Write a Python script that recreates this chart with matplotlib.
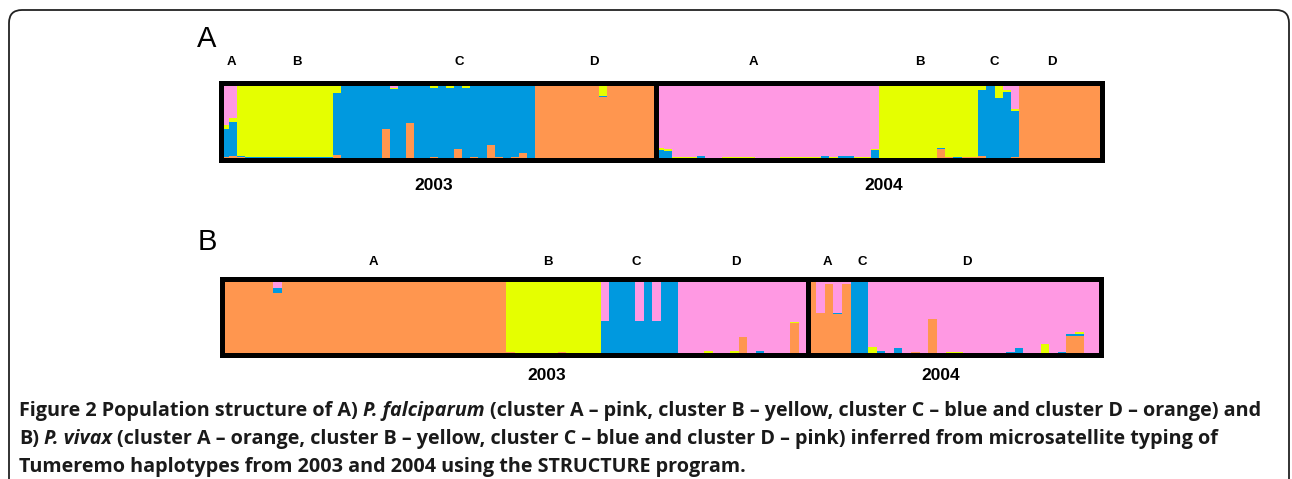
import numpy as np
import matplotlib.pyplot as plt
from matplotlib.patches import FancyBboxPatch

# cluster colours, column order of every row: pink, yellow, blue, orange
colors = ['#FF99E3', '#E5FF00', '#0099DF', '#FF964F']
stack_order = [3, 2, 1, 0]  # drawn from the bottom: orange, blue, yellow, pink

# Panel A, P. falciparum, 2003
falc_2003 = [
    (0.55, 0.06, 0.36, 0.03), (0.46, 0.05, 0.45, 0.04),
    (0.01, 0.94, 0.02, 0.03), (0.01, 0.96, 0.02, 0.01), (0.01, 0.96, 0.02, 0.01),
    (0.01, 0.96, 0.02, 0.01), (0.01, 0.96, 0.02, 0.01), (0.01, 0.96, 0.02, 0.01),
    (0.01, 0.96, 0.02, 0.01), (0.01, 0.96, 0.02, 0.01), (0.01, 0.96, 0.02, 0.01),
    (0.01, 0.96, 0.02, 0.01), (0.01, 0.96, 0.02, 0.01), (0.01, 0.96, 0.02, 0.01),
    (0.00, 0.14, 0.80, 0.06), (0.00, 0.01, 0.97, 0.02), (0.00, 0.01, 0.97, 0.02),
    (0.00, 0.01, 0.97, 0.02), (0.00, 0.01, 0.97, 0.02), (0.01, 0.01, 0.97, 0.01),
    (0.00, 0.01, 0.60, 0.39), (0.07, 0.02, 0.90, 0.01), (0.00, 0.00, 0.99, 0.01),
    (0.00, 0.01, 0.51, 0.48), (0.01, 0.01, 0.97, 0.01), (0.01, 0.01, 0.97, 0.01),
    (0.05, 0.02, 0.90, 0.03), (0.00, 0.01, 0.98, 0.01), (0.05, 0.02, 0.92, 0.01),
    (0.00, 0.01, 0.86, 0.13), (0.04, 0.03, 0.92, 0.01), (0.00, 0.00, 0.97, 0.03),
    (0.02, 0.01, 0.96, 0.01), (0.00, 0.00, 0.81, 0.19), (0.00, 0.01, 0.96, 0.03),
    (0.02, 0.01, 0.96, 0.01), (0.01, 0.00, 0.96, 0.03), (0.01, 0.04, 0.87, 0.08),
    (0.00, 0.00, 0.99, 0.01),
    (0.00, 0.01, 0.00, 0.99), (0.00, 0.01, 0.00, 0.99), (0.00, 0.01, 0.00, 0.99),
    (0.00, 0.01, 0.00, 0.99), (0.00, 0.01, 0.00, 0.99), (0.00, 0.01, 0.00, 0.99),
    (0.00, 0.01, 0.00, 0.99), (0.00, 0.01, 0.00, 0.99), (0.00, 0.17, 0.02, 0.81),
    (0.00, 0.01, 0.00, 0.99), (0.00, 0.01, 0.00, 0.99), (0.00, 0.01, 0.00, 0.99),
    (0.00, 0.01, 0.00, 0.99), (0.00, 0.01, 0.00, 0.99), (0.00, 0.01, 0.00, 0.99),
]

# Panel A, P. falciparum, 2004
falc_2004 = [
    (0.85, 0.03, 0.12, 0.00), (0.86, 0.03, 0.11, 0.00), (0.97, 0.03, 0.00, 0.00),
    (0.97, 0.03, 0.00, 0.00), (0.97, 0.03, 0.00, 0.00), (0.95, 0.01, 0.04, 0.00),
    (0.99, 0.00, 0.00, 0.01), (0.99, 0.00, 0.00, 0.01), (0.97, 0.03, 0.00, 0.00),
    (0.97, 0.03, 0.00, 0.00), (0.97, 0.03, 0.00, 0.00), (0.97, 0.03, 0.00, 0.00),
    (0.99, 0.00, 0.00, 0.01), (0.99, 0.00, 0.00, 0.01), (0.99, 0.00, 0.00, 0.01),
    (0.97, 0.03, 0.00, 0.00), (0.97, 0.03, 0.00, 0.00), (0.97, 0.03, 0.00, 0.00),
    (0.97, 0.03, 0.00, 0.00), (0.97, 0.03, 0.00, 0.00), (0.96, 0.00, 0.04, 0.00),
    (0.97, 0.03, 0.00, 0.00), (0.96, 0.00, 0.04, 0.00), (0.96, 0.00, 0.04, 0.00),
    (0.97, 0.03, 0.00, 0.00), (0.97, 0.03, 0.00, 0.00), (0.87, 0.01, 0.12, 0.00),
    (0.01, 0.97, 0.02, 0.00), (0.01, 0.97, 0.02, 0.00), (0.01, 0.97, 0.02, 0.00),
    (0.01, 0.97, 0.02, 0.00), (0.01, 0.97, 0.02, 0.00), (0.01, 0.97, 0.02, 0.00),
    (0.01, 0.97, 0.02, 0.00), (0.00, 0.85, 0.02, 0.13), (0.02, 0.95, 0.00, 0.03),
    (0.02, 0.95, 0.03, 0.00), (0.01, 0.96, 0.00, 0.03), (0.01, 0.96, 0.00, 0.03),
    (0.00, 0.10, 0.86, 0.04), (0.00, 0.02, 0.97, 0.01), (0.00, 0.20, 0.79, 0.01),
    (0.10, 0.02, 0.88, 0.00), (0.35, 0.02, 0.60, 0.03),
    (0.00, 0.01, 0.00, 0.99), (0.00, 0.01, 0.00, 0.99), (0.00, 0.01, 0.00, 0.99),
    (0.00, 0.01, 0.00, 0.99), (0.00, 0.01, 0.00, 0.99), (0.00, 0.01, 0.00, 0.99),
    (0.00, 0.01, 0.00, 0.99), (0.00, 0.01, 0.00, 0.99), (0.00, 0.01, 0.00, 0.99),
    (0.00, 0.01, 0.00, 0.99),
]

# Panel B, P. vivax, 2003
vivax_2003 = [
    (0.01, 0.00, 0.00, 0.99), (0.01, 0.00, 0.00, 0.99), (0.00, 0.03, 0.00, 0.97),
    (0.01, 0.00, 0.00, 0.99), (0.03, 0.00, 0.00, 0.97), (0.01, 0.00, 0.00, 0.99),
    (0.12, 0.00, 0.07, 0.81), (0.01, 0.00, 0.00, 0.99), (0.00, 0.02, 0.02, 0.96),
    (0.01, 0.00, 0.00, 0.99), (0.01, 0.00, 0.00, 0.99), (0.01, 0.00, 0.00, 0.99),
    (0.01, 0.00, 0.00, 0.99), (0.01, 0.00, 0.00, 0.99), (0.01, 0.00, 0.00, 0.99),
    (0.01, 0.00, 0.00, 0.99), (0.01, 0.00, 0.00, 0.99), (0.00, 0.00, 0.05, 0.95),
    (0.01, 0.00, 0.00, 0.99), (0.01, 0.00, 0.00, 0.99), (0.01, 0.00, 0.00, 0.99),
    (0.01, 0.00, 0.00, 0.99), (0.01, 0.00, 0.00, 0.99), (0.01, 0.00, 0.00, 0.99),
    (0.01, 0.00, 0.00, 0.99), (0.01, 0.00, 0.00, 0.99), (0.00, 0.03, 0.00, 0.97),
    (0.01, 0.00, 0.00, 0.99), (0.01, 0.00, 0.00, 0.99), (0.01, 0.00, 0.00, 0.99),
    (0.03, 0.00, 0.00, 0.97), (0.01, 0.00, 0.00, 0.99), (0.01, 0.00, 0.00, 0.99),
    (0.00, 0.97, 0.00, 0.03), (0.00, 0.99, 0.00, 0.01), (0.00, 0.99, 0.00, 0.01),
    (0.00, 0.99, 0.00, 0.01), (0.00, 0.99, 0.00, 0.01), (0.00, 0.99, 0.00, 0.01),
    (0.03, 0.94, 0.00, 0.03), (0.00, 0.99, 0.00, 0.01), (0.00, 0.99, 0.00, 0.01),
    (0.00, 0.99, 0.00, 0.01), (0.00, 0.99, 0.00, 0.01),
    (0.56, 0.00, 0.44, 0.00), (0.00, 0.00, 1.00, 0.00), (0.00, 0.00, 1.00, 0.00),
    (0.00, 0.00, 1.00, 0.00), (0.56, 0.00, 0.44, 0.00), (0.00, 0.00, 1.00, 0.00),
    (0.56, 0.00, 0.44, 0.00), (0.00, 0.00, 1.00, 0.00), (0.00, 0.00, 1.00, 0.00),
    (0.99, 0.00, 0.00, 0.01), (0.98, 0.00, 0.02, 0.00), (0.99, 0.01, 0.00, 0.00),
    (0.95, 0.03, 0.00, 0.02), (0.98, 0.00, 0.02, 0.00), (0.99, 0.01, 0.00, 0.00),
    (0.95, 0.05, 0.00, 0.00), (0.77, 0.00, 0.00, 0.23), (0.99, 0.01, 0.00, 0.00),
    (0.96, 0.00, 0.04, 0.00), (0.98, 0.00, 0.02, 0.00), (0.99, 0.01, 0.00, 0.00),
    (0.99, 0.01, 0.00, 0.00), (0.57, 0.02, 0.00, 0.41), (0.99, 0.01, 0.00, 0.00),
]

# Panel B, P. vivax, 2004
vivax_2004 = [
    (0.00, 0.00, 0.00, 1.00), (0.45, 0.00, 0.00, 0.55), (0.07, 0.00, 0.00, 0.93),
    (0.45, 0.00, 0.02, 0.53), (0.07, 0.00, 0.00, 0.93), (0.00, 0.00, 1.00, 0.00),
    (0.00, 0.00, 1.00, 0.00), (0.90, 0.10, 0.00, 0.00), (0.96, 0.00, 0.04, 0.00),
    (0.99, 0.01, 0.00, 0.00), (0.92, 0.00, 0.08, 0.00), (0.99, 0.00, 0.00, 0.01),
    (0.97, 0.00, 0.00, 0.03), (0.98, 0.00, 0.02, 0.00), (0.53, 0.00, 0.00, 0.47),
    (0.99, 0.00, 0.00, 0.01), (0.97, 0.03, 0.00, 0.00), (0.97, 0.03, 0.00, 0.00),
    (0.99, 0.01, 0.00, 0.00), (0.99, 0.00, 0.00, 0.01), (0.99, 0.01, 0.00, 0.00),
    (0.99, 0.00, 0.00, 0.01), (0.99, 0.01, 0.00, 0.00), (0.97, 0.00, 0.03, 0.00),
    (0.92, 0.00, 0.08, 0.00), (0.98, 0.00, 0.00, 0.02), (0.98, 0.00, 0.02, 0.00),
    (0.86, 0.14, 0.00, 0.00), (0.98, 0.00, 0.02, 0.00), (0.97, 0.00, 0.03, 0.00),
    (0.73, 0.00, 0.02, 0.25), (0.70, 0.03, 0.02, 0.25), (1.00, 0.00, 0.00, 0.00),
    (1.00, 0.00, 0.00, 0.00),
]

falc_labels = [('A', 231), ('B', 297), ('C', 459), ('D', 594),
               ('A', 753), ('B', 920), ('C', 994), ('D', 1052)]
vivax_labels = [('A', 373), ('B', 548), ('C', 636), ('D', 736),
                ('A', 827), ('C', 862), ('D', 967)]
years = ['2003', '2004']

# caption pieces, (text, italic); neighbouring pieces are joined by a space
caption = [
    [('Figure 2 Population structure of A)', False), ('P. falciparum', True),
     ('(cluster A – pink, cluster B – yellow, cluster C – blue and cluster D – orange) and', False)],
    [('B)', False), ('P. vivax', True),
     ('(cluster A – orange, cluster B – yellow, cluster C – blue and cluster D – pink) '
      'inferred from microsatellite typing of', False)],
    [('Tumeremo haplotypes from 2003 and 2004 using the STRUCTURE program.', False)],
]

W, H = 1292, 479
fig = plt.figure(figsize=(W / 100, H / 100), dpi=100)


def px_axes(x0, y0, x1, y1):
    # pixel box (top-left origin) -> figure axes
    return fig.add_axes([x0 / W, 1 - y1 / H, (x1 - x0) / W, (y1 - y0) / H])


def px_text(x, y, s, **kw):
    kw.setdefault('ha', 'center')
    kw.setdefault('va', 'center')
    return fig.text(x / W, 1 - y / H, s, **kw)


def draw_structure(ax, rows):
    q = np.array(rows, dtype=float)
    q = q / q.sum(axis=1, keepdims=True)
    x = np.arange(len(q))
    bottom = np.zeros(len(q))
    for k in stack_order:
        ax.bar(x, q[:, k], width=1.0, bottom=bottom, align='edge',
               color=colors[k], linewidth=0)
        bottom += q[:, k]
    ax.set_xlim(0, len(q))
    ax.set_ylim(0, 1)
    ax.set_xticks([])
    ax.set_yticks([])
    for s in ax.spines.values():
        s.set_linewidth(3.6)
        s.set_color('black')
        s.set_zorder(5)


# rounded outer frame of the figure box
frame = FancyBboxPatch((0.09, -0.4), 12.80, 4.69 + 0.4,
                       boxstyle='round,pad=0,rounding_size=0.13',
                       transform=fig.dpi_scale_trans, fill=False,
                       edgecolor='#222222', linewidth=1.3)
fig.patches.append(frame)

draw_structure(px_axes(220.5, 82.5, 655.8, 159.5), falc_2003)
draw_structure(px_axes(655.8, 82.5, 1102, 159.5), falc_2004)
draw_structure(px_axes(221.5, 278.5, 807.5, 354.5), vivax_2003)
draw_structure(px_axes(807.5, 278.5, 1101, 354.5), vivax_2004)

px_text(207, 39, 'A', fontsize=21, family='Liberation Sans')
px_text(207, 242, 'B', fontsize=21, family='Liberation Sans')
for s, x in falc_labels:
    px_text(x, 62, s, fontsize=9.5, fontweight='bold', family='Liberation Sans')
for s, x in vivax_labels:
    px_text(x, 262, s, fontsize=9.5, fontweight='bold', family='Liberation Sans')
px_text(434, 185, years[0], fontsize=12.5, fontweight='bold', family='Liberation Sans')
px_text(884, 185, years[1], fontsize=12.5, fontweight='bold', family='Liberation Sans')
px_text(547, 376, years[0], fontsize=12.5, fontweight='bold', family='Liberation Sans')
px_text(941, 376, years[1], fontsize=12.5, fontweight='bold', family='Liberation Sans')

# caption: place the pieces one after another using their measured widths
renderer = fig.canvas.get_renderer()
cap_kw = dict(ha='left', fontsize=14.2, fontweight='bold', family='Open Sans',
              color='#1a1a1a')
probe_a = px_text(0, -50, 'aa', **cap_kw)
probe_b = px_text(0, -50, 'a a', **cap_kw)
space_w = (probe_b.get_window_extent(renderer).width
           - probe_a.get_window_extent(renderer).width)
probe_a.remove()
probe_b.remove()
for i, line in enumerate(caption):
    x = 19
    for piece, italic in line:
        t = px_text(x, 411 + 28 * i, piece, style='italic' if italic else 'normal', **cap_kw)
        x += t.get_window_extent(renderer).width + space_w

fig.savefig('out.png', dpi=100)
